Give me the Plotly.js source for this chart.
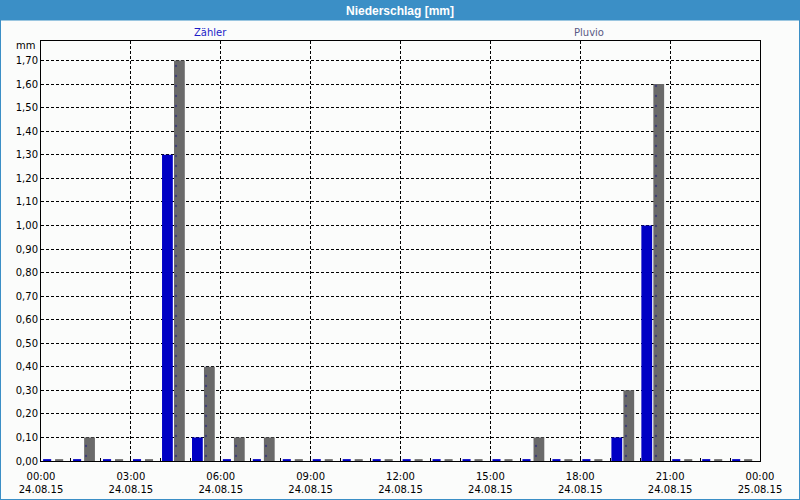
<!DOCTYPE html>
<html>
<head>
<meta charset="utf-8">
<script src="https://cdn.plot.ly/plotly-3.0.1.min.js"></script>
<style>html,body{margin:0;padding:0;background:#fbfcfb;}#chart{width:800px;height:500px;}</style>
</head>
<body>
<div id="chart"></div>
<script>
// Hour of day (start of each hourly interval), 24.08.15
const hours = [0,1,2,3,4,5,6,7,8,9,10,11,12,13,14,15,16,17,18,19,20,21,22,23];
// Niederschlag [mm] per hour
const zaehler = [0,0,0,0,1.30,0.10,0,0,0,0,0,0,0,0,0,0,0,0,0,0.10,1.00,0,0,0];
const pluvio  = [0,0.10,0,0,1.70,0.40,0.10,0.10,0,0,0,0,0,0,0,0,0.10,0,0,0.30,1.60,0,0,0];
const seriesNames = ['Zähler', 'Pluvio'];
const xTickVals = [0,3,6,9,12,15,18,21,24];
const xTickTimes = ['00:00','03:00','06:00','09:00','12:00','15:00','18:00','21:00','00:00'];
const xTickDates = ['24.08.15','24.08.15','24.08.15','24.08.15','24.08.15','24.08.15','24.08.15','24.08.15','25.08.15'];

const BLUE = '#0000c4';
const GRAY = '#6a6a6a';
const STUB = 0.008; // drawn height of the tiny marker for zero values

// zero-value stubs
const zx = hours.filter((h,i)=>zaehler[i]===0);
const px = hours.filter((h,i)=>pluvio[i]===0);

const traces = [
  {type:'bar', name:seriesNames[0], x:hours, y:zaehler, offset:0.04, width:0.36,
   marker:{color:BLUE, line:{width:0}}, hoverinfo:'skip'},
  {type:'bar', name:seriesNames[1], x:hours, y:pluvio, offset:0.44, width:0.36,
   marker:{color:GRAY, line:{width:0}, pattern:{shape:'.', fgcolor:'#3c3c78', bgcolor:GRAY, size:10, solidity:0.04}}, hoverinfo:'skip'},
  {type:'bar', x:zx, y:zx.map(()=>STUB), offset:0.07, width:0.27,
   marker:{color:BLUE, line:{width:0}}, hoverinfo:'skip', showlegend:false},
  {type:'bar', x:px, y:px.map(()=>STUB), offset:0.47, width:0.27,
   marker:{color:GRAY, line:{width:0}}, hoverinfo:'skip', showlegend:false}
];

// pixel helpers for decoration placed in paper coords
const L=41, R=760, T=41, B=461;
const fx = p => (p-L)/(R-L);
const fy = p => (B-p)/(B-T);
const FRAME = '#3b8fc6';
const FONT = 'DejaVu Sans, Verdana, sans-serif';

const layout = {
  width:800, height:500,
  margin:{l:L, r:800-R, t:T, b:500-B, pad:0},
  paper_bgcolor:'#fbfcfb', plot_bgcolor:'#fbfcfb',
  barmode:'overlay', showlegend:false,
  separators:',.',
  font:{family:FONT, size:10, color:'#000000'},
  title:{text:'<b>Niederschlag [mm]</b>', font:{family:'Liberation Sans, Arial, sans-serif', size:12, color:'#ffffff'},
         x:0.5, xref:'container', xanchor:'center', y:1-10.5/500, yref:'container', yanchor:'middle'},
  xaxis:{range:[0,24], tickmode:'array', tickvals:xTickVals,
         ticktext:xTickTimes.map((t,i)=>t+'<br>'+xTickDates[i]),
         ticks:'inside', ticklen:3, tickcolor:'#000', ticklabelstandoff:6,
         showgrid:true, gridcolor:'#000000', gridwidth:1, griddash:'3px,2px',
         minor:{dtick:1, tick0:0, ticks:'inside', ticklen:3, tickcolor:'#000', showgrid:false},
         showline:true, linecolor:'#000', linewidth:1, mirror:true, zeroline:false,
         tickfont:{family:FONT, size:10, color:'#000'}, fixedrange:true},
  yaxis:{range:[0,1.783], dtick:0.1, tick0:0, tickformat:'.2f',
         ticks:'', showgrid:true, gridcolor:'#000000', gridwidth:1, griddash:'3px,2px',
         showline:true, linecolor:'#000', linewidth:1, mirror:true, zeroline:false,
         tickfont:{family:FONT, size:10, color:'#000'}, fixedrange:true},
  shapes:[
    {type:'rect', xref:'paper', yref:'paper', x0:fx(0), x1:fx(800), y0:fy(0), y1:fy(20.5), fillcolor:FRAME, line:{width:0}, layer:'below'},
    {type:'rect', xref:'paper', yref:'paper', x0:fx(0), x1:fx(1), y0:fy(0), y1:fy(500), fillcolor:FRAME, line:{width:0}, layer:'below'},
    {type:'rect', xref:'paper', yref:'paper', x0:fx(799), x1:fx(800), y0:fy(0), y1:fy(500), fillcolor:FRAME, line:{width:0}, layer:'below'},
    {type:'rect', xref:'paper', yref:'paper', x0:fx(0), x1:fx(800), y0:fy(499), y1:fy(500), fillcolor:FRAME, line:{width:0}, layer:'below'}
  ],
  annotations:[
    {text:seriesNames[0], xref:'paper', yref:'paper', x:fx(210), y:fy(32), xanchor:'center', yanchor:'middle', showarrow:false,
     font:{family:FONT, size:10, color:'#1c1cc8'}},
    {text:seriesNames[1], xref:'paper', yref:'paper', x:fx(589), y:fy(32), xanchor:'center', yanchor:'middle', showarrow:false,
     font:{family:FONT, size:10, color:'#5a5a84'}},
    {text:'mm', xref:'paper', yref:'paper', x:fx(37), y:fy(46), xanchor:'right', yanchor:'middle', showarrow:false,
     font:{family:FONT, size:10, color:'#000'}}
  ]
};

Plotly.newPlot('chart', traces, layout, {displayModeBar:false, staticPlot:true});
</script>
</body>
</html>
